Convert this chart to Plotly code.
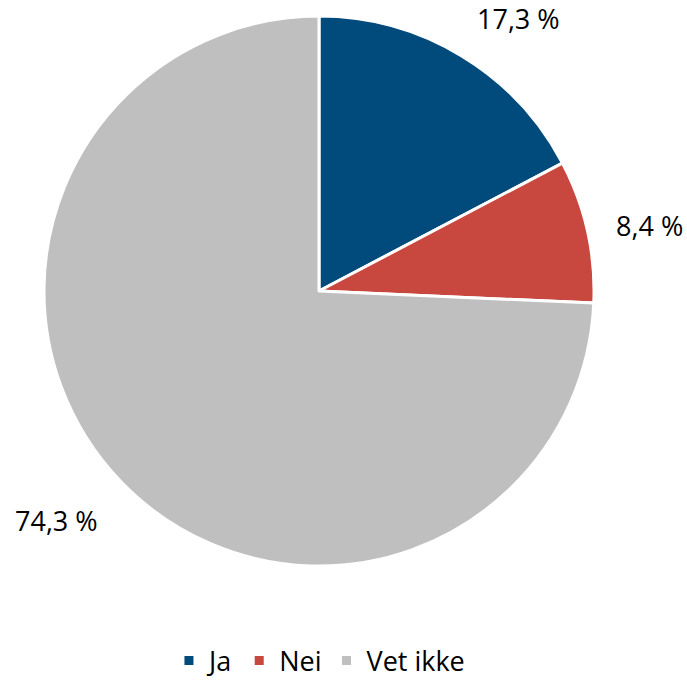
import math
import plotly.graph_objects as go

labels = ["Ja", "Nei", "Vet ikke"]
values = [17.3, 8.4, 74.3]
colors = ["#004A7C", "#C8473F", "#BFBFBF"]

W, H = 687, 681
cx, cy, r = 319, 291, 275
font = dict(family="Open Sans, Liberation Sans, sans-serif", size=27, color="black")

fig = go.Figure(go.Pie(
    labels=labels,
    values=values,
    sort=False,
    direction="clockwise",
    rotation=0,
    marker=dict(colors=colors, line=dict(color="white", width=3)),
    textinfo="none",
    domain=dict(x=[(cx - r) / W, (cx + r) / W], y=[1 - (cy + r) / H, 1 - (cy - r) / H]),
    showlegend=True,
    hovertemplate="%{label}: %{value:.1f} %<extra></extra>",
))

# Outside data labels placed along each slice's mid angle
total = sum(values)
cum = 0.0
for v in values:
    mid = (cum + v / 2) / total * 2 * math.pi
    cum += v
    s, c = math.sin(mid), math.cos(mid)
    px = cx + 1.1 * r * s
    py = cy - 1.1 * r * c
    xa = "left" if s > 0 else "right"
    ya = "bottom" if c > 0.5 else ("top" if c < -0.5 else "middle")
    fig.add_annotation(
        x=px / W, y=1 - py / H, xref="paper", yref="paper",
        text=f"{v:.1f} %".replace(".", ","), showarrow=False,
        xanchor=xa, yanchor=ya, font=font,
        yshift=-7 if ya == "bottom" else 0,
    )

fig.update_layout(
    width=W, height=H,
    margin=dict(l=0, r=0, t=0, b=0, autoexpand=False),
    paper_bgcolor="white",
    separators=", ",
    legend=dict(
        orientation="h", x=0.465, xanchor="center", y=1 - 661 / H, yanchor="middle",
        font=font, itemwidth=30,
    ),
)

fig.write_html(
    "out.html",
    config={"displayModeBar": False},
    post_script="document.body.style.margin='0';document.body.style.overflow='hidden';",
)
